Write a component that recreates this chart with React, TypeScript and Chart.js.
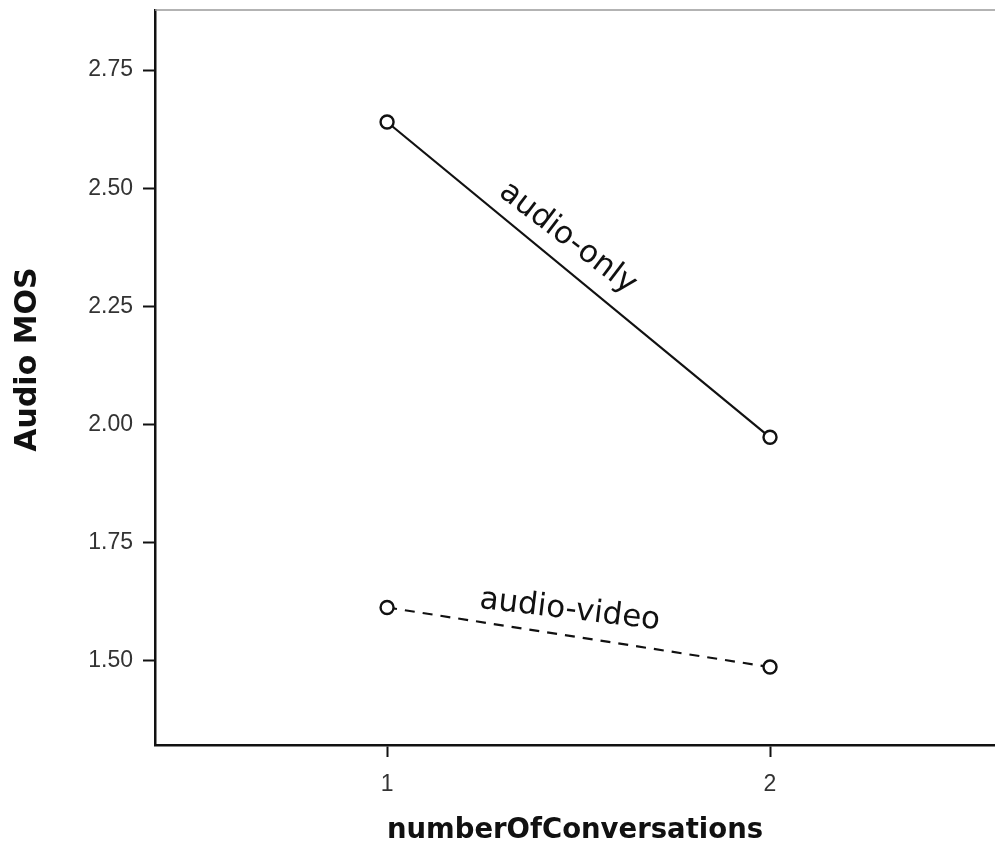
import { useEffect, useRef } from 'react';
import { Chart, registerables } from 'chart.js';

Chart.register(...registerables);

const conversations = [1, 2];
const audioOnlyMOS = [2.64, 1.973];
const audioVideoMOS = [1.613, 1.487];
const seriesNames = ['audio-only', 'audio-video'];
const yTickValues = [1.5, 1.75, 2.0, 2.25, 2.5, 2.75];
const xTickValues = [1, 2];
const yTitle = 'Audio MOS';
const xTitle = 'numberOfConversations';

const labelT = [0.43, 0.467];
const labelOffset = 25;
const labelAngleTweak = (-2 * Math.PI) / 180;

const decorPlugin = {
  id: 'decor',
  afterDatasetsDraw(chart: any) {
    const { ctx, chartArea } = chart;
    ctx.save();
    ctx.strokeStyle = '#9a9a9a';
    ctx.lineWidth = 1.5;
    ctx.beginPath();
    ctx.moveTo(chartArea.left, chartArea.top);
    ctx.lineTo(chartArea.right, chartArea.top);
    ctx.stroke();

    chart.data.datasets.forEach((ds: any, i: number) => {
      const meta = chart.getDatasetMeta(i);
      const p0 = meta.data[0];
      const p1 = meta.data[1];
      const dx = p1.x - p0.x;
      const dy = p1.y - p0.y;
      const ang = Math.atan2(dy, dx);
      const t = labelT[i];
      const cx = p0.x + dx * t + Math.sin(ang) * labelOffset;
      const cy = p0.y + dy * t - Math.cos(ang) * labelOffset;
      ctx.save();
      ctx.translate(cx, cy);
      ctx.rotate(ang + labelAngleTweak);
      ctx.font = '31px "DejaVu Sans"';
      ctx.fillStyle = '#111';
      ctx.textAlign = 'center';
      ctx.textBaseline = 'middle';
      ctx.fillText(seriesNames[i], 0, 0);
      ctx.restore();
    });

    // y axis title
    const yScale = chart.scales.y;
    ctx.save();
    ctx.translate(yScale.left + 28, (chartArea.top + chartArea.bottom) / 2 - 18);
    ctx.rotate(-Math.PI / 2);
    ctx.font = 'bold 30px "DejaVu Sans"';
    ctx.fillStyle = '#111';
    ctx.textAlign = 'center';
    ctx.textBaseline = 'middle';
    ctx.fillText(yTitle, 0, 0);
    ctx.restore();

    ctx.restore();
  },
};

export default function App() {
  const ref = useRef<HTMLCanvasElement>(null);

  useEffect(() => {
    const canvas = ref.current;
    if (!canvas) return;
    const chart = new Chart(canvas, {
      type: 'line',
      data: {
        datasets: [
          {
            label: seriesNames[0],
            data: conversations.map((x, i) => ({ x, y: audioOnlyMOS[i] })),
            borderColor: '#111',
            borderWidth: 2.2,
            pointRadius: 6.5,
            pointBorderWidth: 2.4,
            pointBackgroundColor: '#fff',
            pointBorderColor: '#111',
            fill: false,
            tension: 0,
          },
          {
            label: seriesNames[1],
            data: conversations.map((x, i) => ({ x, y: audioVideoMOS[i] })),
            borderColor: '#111',
            borderWidth: 2.2,
            borderDash: [10, 8],
            pointRadius: 6.5,
            pointBorderWidth: 2.4,
            pointBackgroundColor: '#fff',
            pointBorderColor: '#111',
            fill: false,
            tension: 0,
          },
        ],
      },
      options: {
        responsive: false,
        animation: false,
        devicePixelRatio: 1,
        layout: { autoPadding: false, padding: { top: 10, left: 0, right: 0, bottom: 0 } },
        plugins: {
          legend: { display: false },
          tooltip: { enabled: false },
        },
        scales: {
          x: {
            type: 'linear',
            min: 0.394,
            max: 2.5875,
            afterBuildTicks: (scale: any) => {
              scale.ticks = xTickValues.map((v) => ({ value: v }));
            },
            afterFit: (scale: any) => {
              scale.height = 98;
              scale.paddingLeft = 0;
              scale.paddingRight = 0;
            },
            grid: {
              drawOnChartArea: false,
              drawTicks: true,
              tickLength: 12,
              tickWidth: 2,
              tickColor: '#111',
            },
            border: { display: true, color: '#111', width: 2.5 },
            ticks: {
              color: '#333',
              font: { family: '"Liberation Sans", Arial, sans-serif', size: 23 },
              padding: 14,
              callback: (v: any) => String(v),
            },
            title: {
              display: true,
              text: xTitle,
              color: '#111',
              font: { family: '"DejaVu Sans", sans-serif', size: 27.5, weight: 'bold', lineHeight: 0.9 },
              padding: { top: 0, bottom: 0 },
            },
          },
          y: {
            type: 'linear',
            min: 1.322,
            max: 2.877,
            afterBuildTicks: (scale: any) => {
              scale.ticks = yTickValues.map((v) => ({ value: v }));
            },
            afterFit: (scale: any) => {
              scale.width = 155;
              scale.paddingTop = 0;
              scale.paddingBottom = 0;
            },
            grid: {
              drawOnChartArea: false,
              drawTicks: true,
              tickLength: 12,
              tickWidth: 2,
              tickColor: '#111',
            },
            border: { display: true, color: '#111', width: 2.5 },
            ticks: {
              color: '#333',
              font: { family: '"Liberation Sans", Arial, sans-serif', size: 23 },
              padding: 10,
              callback: (v: any) => Number(v).toFixed(2),
            },
            title: { display: false, text: yTitle },
          },
        },
      },
      plugins: [decorPlugin],
    } as any);
    return () => chart.destroy();
  }, []);

  return (
    <div style={{ position: 'absolute', left: 0, top: 0, width: 995, height: 843, background: '#fff' }}>
      <canvas ref={ref} width={995} height={843} style={{ display: 'block', width: 995, height: 843 }} />
    </div>
  );
}
